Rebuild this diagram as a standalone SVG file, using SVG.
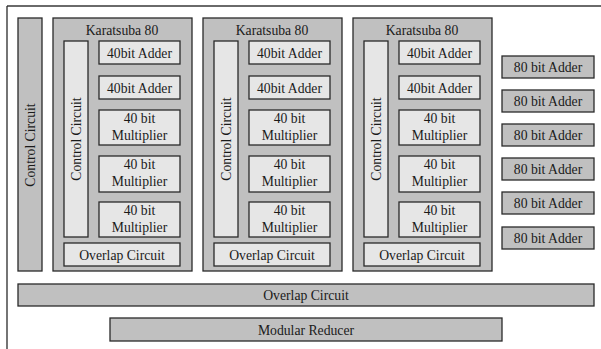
<svg xmlns="http://www.w3.org/2000/svg" width="601" height="349" viewBox="0 0 601 349">
<style>
.g{fill:#c0c0c0;stroke:#2a2a2a;stroke-width:1.3}
.l{fill:#e6e6e6;stroke:#2a2a2a;stroke-width:1.3}
text{font-family:"Liberation Serif","Times New Roman",serif;font-size:13.7px;fill:#1a1a1a;text-anchor:middle}
</style>
<rect width="601" height="349" fill="#fff"/>
<g id="frame">
<line x1="7" y1="6" x2="601" y2="6" stroke="#6a6a6a" stroke-width="2"/>
<line x1="7" y1="6" x2="7" y2="349" stroke="#2a2a2a" stroke-width="1.3"/>
</g>
<g id="control-main">
<rect class="g" x="18" y="18" width="24" height="253"/>
<text transform="translate(35,145) rotate(-90)">Control Circuit</text>
</g>
<g id="karatsuba1">
<rect class="g" x="53" y="18" width="139" height="253"/>
<text x="122" y="35">Karatsuba 80</text>
<rect class="l" x="64" y="41" width="24" height="196"/>
<text transform="translate(81,139) rotate(-90)">Control Circuit</text>
<rect class="l" x="99" y="41" width="81" height="23"/><text x="139.5" y="57.5">40bit Adder</text>
<rect class="l" x="99" y="76" width="81" height="23"/><text x="139.5" y="92.5">40bit Adder</text>
<rect class="l" x="99" y="110" width="81" height="35"/><text x="139.5" y="123">40 bit</text><text x="139.5" y="140">Multiplier</text>
<rect class="l" x="99" y="156" width="81" height="36"/><text x="139.5" y="169">40 bit</text><text x="139.5" y="186">Multiplier</text>
<rect class="l" x="99" y="202" width="81" height="35"/><text x="139.5" y="215">40 bit</text><text x="139.5" y="232">Multiplier</text>
<rect class="l" x="64" y="243" width="116" height="23"/><text x="122" y="259.5">Overlap Circuit</text>
</g>
<g id="karatsuba2" transform="translate(150,0)">
<rect class="g" x="53" y="18" width="139" height="253"/>
<text x="122" y="35">Karatsuba 80</text>
<rect class="l" x="64" y="41" width="24" height="196"/>
<text transform="translate(81,139) rotate(-90)">Control Circuit</text>
<rect class="l" x="99" y="41" width="81" height="23"/><text x="139.5" y="57.5">40bit Adder</text>
<rect class="l" x="99" y="76" width="81" height="23"/><text x="139.5" y="92.5">40bit Adder</text>
<rect class="l" x="99" y="110" width="81" height="35"/><text x="139.5" y="123">40 bit</text><text x="139.5" y="140">Multiplier</text>
<rect class="l" x="99" y="156" width="81" height="36"/><text x="139.5" y="169">40 bit</text><text x="139.5" y="186">Multiplier</text>
<rect class="l" x="99" y="202" width="81" height="35"/><text x="139.5" y="215">40 bit</text><text x="139.5" y="232">Multiplier</text>
<rect class="l" x="64" y="243" width="116" height="23"/><text x="122" y="259.5">Overlap Circuit</text>
</g>
<g id="karatsuba3" transform="translate(300,0)">
<rect class="g" x="53" y="18" width="139" height="253"/>
<text x="122" y="35">Karatsuba 80</text>
<rect class="l" x="64" y="41" width="24" height="196"/>
<text transform="translate(81,139) rotate(-90)">Control Circuit</text>
<rect class="l" x="99" y="41" width="81" height="23"/><text x="139.5" y="57.5">40bit Adder</text>
<rect class="l" x="99" y="76" width="81" height="23"/><text x="139.5" y="92.5">40bit Adder</text>
<rect class="l" x="99" y="110" width="81" height="35"/><text x="139.5" y="123">40 bit</text><text x="139.5" y="140">Multiplier</text>
<rect class="l" x="99" y="156" width="81" height="36"/><text x="139.5" y="169">40 bit</text><text x="139.5" y="186">Multiplier</text>
<rect class="l" x="99" y="202" width="81" height="35"/><text x="139.5" y="215">40 bit</text><text x="139.5" y="232">Multiplier</text>
<rect class="l" x="64" y="243" width="116" height="23"/><text x="122" y="259.5">Overlap Circuit</text>
</g>
<g id="adders80">
<rect class="g" x="502" y="56" width="92" height="22"/><text x="548" y="71.5">80 bit Adder</text>
<rect class="g" x="502" y="90" width="92" height="22"/><text x="548" y="105.5">80 bit Adder</text>
<rect class="g" x="502" y="124" width="92" height="22"/><text x="548" y="139.5">80 bit Adder</text>
<rect class="g" x="502" y="158" width="92" height="22"/><text x="548" y="173.5">80 bit Adder</text>
<rect class="g" x="502" y="192" width="92" height="22"/><text x="548" y="207.5">80 bit Adder</text>
<rect class="g" x="502" y="227" width="92" height="22"/><text x="548" y="242.5">80 bit Adder</text>
</g>
<g id="overlap-main">
<rect class="g" x="18" y="284" width="576" height="22"/><text x="306" y="300">Overlap Circuit</text>
</g>
<g id="modular-reducer">
<rect class="g" x="110" y="318" width="392" height="23"/><text x="306" y="334.5">Modular Reducer</text>
</g>
<g id="connectors"/>
</svg>
